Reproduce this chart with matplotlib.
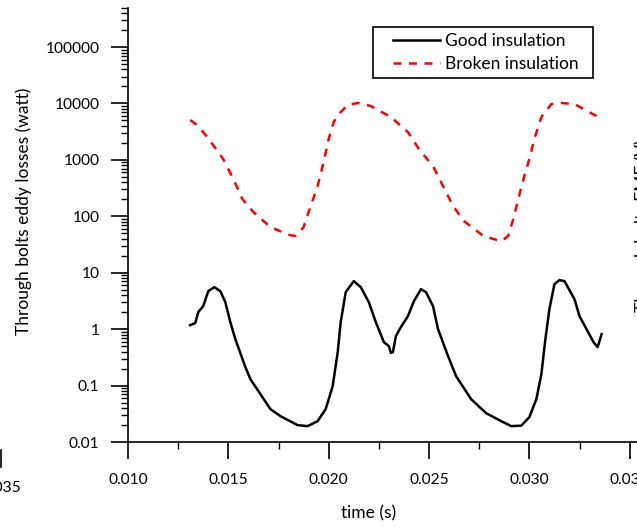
import matplotlib.pyplot as plt
from matplotlib.lines import Line2D
from matplotlib.patches import Rectangle
from matplotlib.ticker import LogLocator, FixedLocator, NullFormatter

plt.rcParams['font.family'] = ['Lato', 'DejaVu Sans']

# broken insulation (red dashed)
t_broken = [0.0131, 0.01345, 0.01395, 0.01475, 0.01525, 0.0157, 0.01625, 0.0171,
            0.0181, 0.01835, 0.01875, 0.019, 0.01945, 0.01975, 0.0200, 0.02025,
            0.0205, 0.02095, 0.02145, 0.0221, 0.0231, 0.02395, 0.0245, 0.0252,
            0.0257, 0.0262, 0.02675, 0.0277, 0.0286, 0.02895, 0.0292, 0.02945,
            0.02975, 0.0300, 0.03025, 0.0306, 0.0311, 0.0316, 0.03225, 0.03335]
p_broken = [5080, 4140, 2540, 1030, 457, 202, 119, 64,
            46, 45, 64, 119, 343, 914, 2340, 4680,
            6490, 9370, 10200, 9000, 5740, 3110, 1550, 776,
            343, 152, 82, 45, 36, 45, 89, 202,
            516, 1030, 2340, 5740, 9750, 10200, 9750, 5980]

# good insulation (black solid)
t_good = [0.0131, 0.01335, 0.0135, 0.01375, 0.0140, 0.0143, 0.0146, 0.01485,
          0.0151, 0.01535, 0.01585, 0.0161, 0.0166, 0.0171, 0.0176, 0.01845,
          0.01895, 0.01945, 0.01985, 0.0202, 0.02045, 0.0206, 0.02085, 0.02125,
          0.0216, 0.0220, 0.02235, 0.02275, 0.0230, 0.0231, 0.0232, 0.02335,
          0.0236, 0.02395, 0.02425, 0.0246, 0.02485, 0.0252, 0.02545, 0.02595,
          0.02635, 0.0271, 0.02785, 0.0286, 0.0291, 0.0296, 0.0300, 0.03035,
          0.0306, 0.0308, 0.0310, 0.03125, 0.0315, 0.03175, 0.03225, 0.0325,
          0.03285, 0.0332, 0.0334, 0.03345, 0.0336]
p_good = [1.18, 1.28, 2.0, 2.56, 4.72, 5.55, 4.72, 3.01,
          1.33, 0.665, 0.212, 0.130, 0.0704, 0.0382, 0.0287, 0.0199,
          0.0191, 0.0234, 0.0382, 0.0976, 0.391, 1.33, 4.53, 7.1,
          5.55, 3.01, 1.33, 0.588, 0.5, 0.38, 0.391, 0.751,
          1.09, 1.70, 3.14, 5.12, 4.53, 2.56, 1.0, 0.332,
          0.147, 0.0574, 0.0324, 0.0234, 0.0191, 0.0195, 0.0275, 0.0574,
          0.159, 0.665, 2.26, 6.28, 7.4, 7.1, 3.40, 1.70,
          1.0, 0.588, 0.48, 0.54, 0.815]

x_ticks = [0.010, 0.015, 0.020, 0.025, 0.030, 0.035]
x_labels = ['0.010', '0.015', '0.020', '0.025', '0.030', '0.035']
y_ticks = [0.01, 0.1, 1, 10, 100, 1000, 10000, 100000]
y_labels = ['0.01', '0.1', '1', '10', '100', '1000', '10000', '100000']

W, H = 637, 532
fig = plt.figure(figsize=(W / 100, H / 100), dpi=100)
# axes runs past the right edge like the cropped original
ax_w, ax_h = 602.0, 434.4
ax = fig.add_axes([128 / W, (H - 442) / H, ax_w / W, ax_h / H])

ax.plot(t_good, p_good, color='black', lw=1.8, label='Good insulation')
ax.plot(t_broken, p_broken, color='red', lw=1.8, dashes=(3.2, 3.0),
        label='Broken insulation')

ax.set_yscale('log')
ax.set_xlim(0.010, 0.040)
ax.set_ylim(0.01, 5e5)

ax.set_xticks(x_ticks)
ax.set_xticklabels(x_labels)
ax.xaxis.set_minor_locator(FixedLocator([0.0125, 0.0175, 0.0225, 0.0275, 0.0325, 0.0375]))
ax.set_yticks(y_ticks)
ax.set_yticklabels(y_labels)
ax.yaxis.set_minor_locator(LogLocator(base=10, subs=range(2, 10), numticks=20))
ax.yaxis.set_minor_formatter(NullFormatter())

for s in ['top', 'right']:
    ax.spines[s].set_visible(False)
for s in ['left', 'bottom']:
    ax.spines[s].set_linewidth(1.2)

ax.tick_params(which='major', direction='out', length=12, width=1.2,
               labelsize=11.2)
ax.tick_params(which='minor', direction='out', length=5, width=1.0)
ax.tick_params(axis='x', which='major', pad=10)
ax.tick_params(axis='y', which='major', pad=8.5)

ax.set_xlabel('time (s)', fontsize=12.5, va='center')
ax.set_ylabel('Through bolts eddy losses (watt)', fontsize=12.5, va='center')
ax.xaxis.set_label_coords((369 - 128) / ax_w, -(513 - 442) / ax_h)
ax.yaxis.set_label_coords(-(128 - 24) / ax_w, (442 - 211) / ax_h)

# legend entries without frame, box drawn separately (wider side padding)
ax.legend(loc='upper left', bbox_to_anchor=(393 / W, 1 - 33 / H),
          bbox_transform=fig.transFigure, frameon=False, fontsize=12.5,
          handlelength=2.7, borderpad=0, labelspacing=0.4,
          handletextpad=0.3, borderaxespad=0)
fig.add_artist(Rectangle((373 / W, 1 - 78 / H), 220 / W, 51 / H,
                         transform=fig.transFigure, fill=False,
                         edgecolor='black', lw=1.2))

# bits of neighbouring charts cut off by the crop
fig.text(21 / W, 1 - 488 / H, '0.035', fontsize=11.2, ha='right', va='center')
fig.add_artist(Line2D([0.6 / W, 0.6 / W], [1 - 450 / H, 1 - 467 / H],
                      color='black', lw=1.2))
fig.text(634 / W, 1 - 226 / H, 'Through bolts EMF (V)', fontsize=12.5,
         rotation=90, ha='left', va='center')

fig.savefig('out.png', dpi=100)
